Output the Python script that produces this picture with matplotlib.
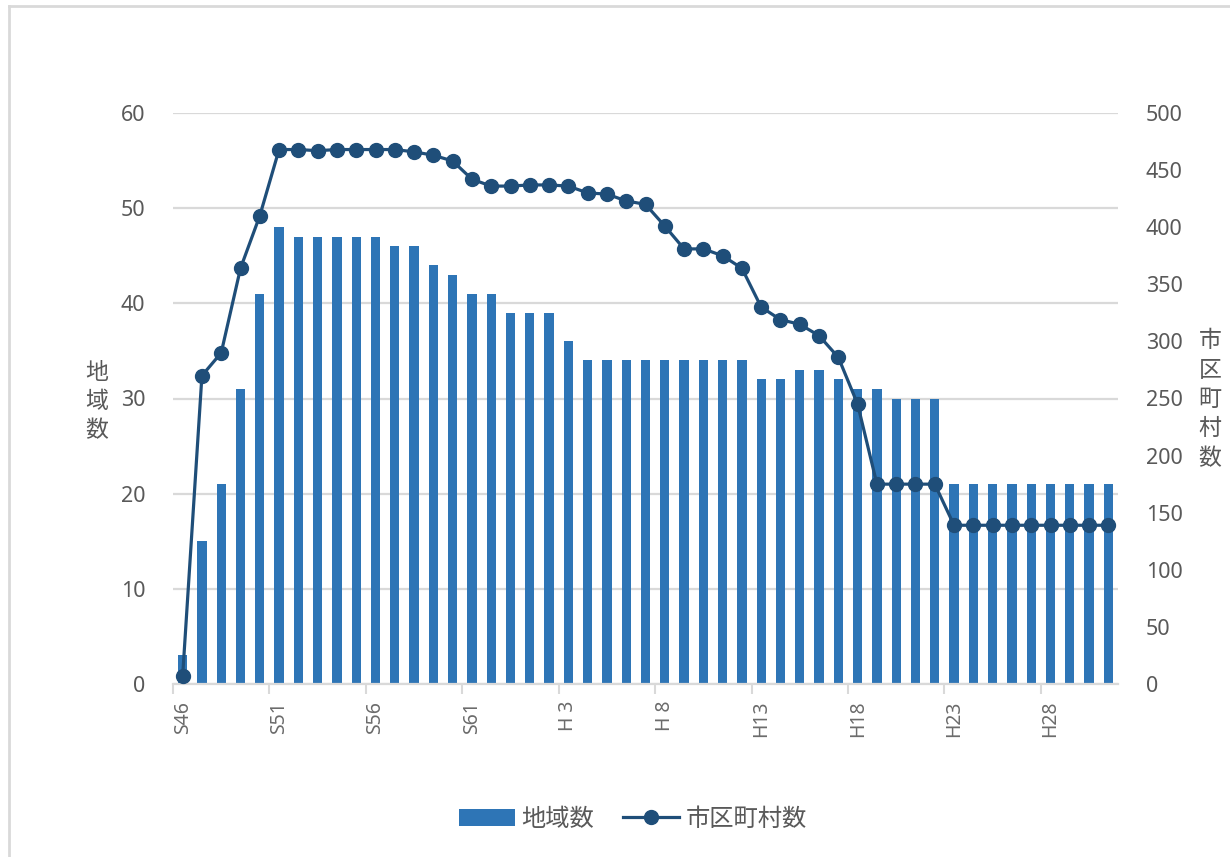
import numpy as np
import matplotlib.pyplot as plt
from matplotlib.lines import Line2D

plt.rcParams['font.family'] = ['Noto Sans', 'Noto Sans CJK JP']

# categories: S46..S63, H1..H31
years = ['S%d' % y for y in range(46, 64)] + ['H%d' % y for y in range(1, 32)]
tick_labels = ['S46', 'S51', 'S56', 'S61', 'H 3', 'H 8', 'H13', 'H18', 'H23', 'H28']

# 地域数 (left axis)
chiiki = [3, 15, 21, 31, 41, 48, 47, 47, 47, 47,
          47, 46, 46, 44, 43, 41, 41, 39, 39, 39,
          36, 34, 34, 34, 34, 34, 34, 34, 34, 34,
          32, 32, 33, 33, 32, 31, 31, 30, 30, 30,
          21, 21, 21, 21, 21, 21, 21, 21, 21]

# 市区町村数 (right axis)
shikuchoson = [7, 270, 290, 364, 410, 468, 468, 467, 468, 468,
               468, 468, 466, 463, 458, 442, 436, 436, 437, 437,
               436, 430, 429, 423, 420, 401, 381, 381, 375, 364,
               330, 319, 315, 305, 286, 245, 175, 175, 175, 175,
               139, 139, 139, 139, 139, 139, 139, 139, 139]

bar_c = '#2E75B6'
line_c = '#1F4E79'
grid_c = '#D9D9D9'
txt_c = '#595959'

x = np.arange(len(years))

fig = plt.figure(figsize=(12.3, 8.57), dpi=100)
ax = fig.add_axes([173/1230, 1-684/857, 945/1230, 571/857])
ax2 = ax.twinx()

ax.bar(x, chiiki, width=0.48, color=bar_c, zorder=2, label='地域数')
ax2.plot(x, shikuchoson, color=line_c, lw=2.3, marker='o', ms=10, zorder=3, label='市区町村数')

# left axis
ax.set_xlim(-0.5, len(years) - 0.5)
ax.set_ylim(0, 60)
ax.set_yticks(np.arange(0, 61, 10))
ax.grid(axis='y', color=grid_c, lw=1.6, zorder=0)
ax.set_axisbelow(True)
ax.tick_params(axis='y', length=0, pad=20, labelsize=15.5, labelcolor=txt_c)

# right axis
ax2.set_ylim(0, 500)
ax2.set_yticks(np.arange(0, 501, 50))
ax2.tick_params(axis='y', length=0, pad=20, labelsize=15.5, labelcolor=txt_c)

# x axis: labels every 5 categories, tick marks at category boundaries
ax.set_xticks(x[::5])
ax.set_xticklabels(tick_labels, rotation=90, va='top')
ax.tick_params(axis='x', which='major', length=0, pad=12, labelsize=14, labelcolor='#6b6b6b')
ax.set_xticks(np.arange(-0.5, len(years) - 1, 5), minor=True)
ax.tick_params(axis='x', which='minor', length=7, width=1.5, color=grid_c)

for a in (ax, ax2):
    for s in ['top', 'left', 'right']:
        a.spines[s].set_visible(False)
ax2.spines['bottom'].set_visible(False)
ax.spines['bottom'].set_color(grid_c)
ax.spines['bottom'].set_linewidth(1.6)

# stacked axis titles
fig.text(97/1230, 1-402/857, '\n'.join('地域数'), ha='center', va='center',
         fontsize=16.5, color=txt_c, linespacing=1.3)
fig.text(1210/1230, 1-400/857, '\n'.join('市区町村数'), ha='center', va='center',
         fontsize=16.5, color=txt_c, linespacing=1.3)

# legend
h1, l1 = ax.get_legend_handles_labels()
h2, l2 = ax2.get_legend_handles_labels()
fig.legend(h1 + h2, l1 + l2, loc='center', bbox_to_anchor=(633/1230, 1-820/857),
           ncol=2, frameon=False, fontsize=17.5, labelcolor=txt_c,
           handlelength=2.3, handletextpad=0.25, columnspacing=1.2)

# chart border (left and top edges)
fig.add_artist(Line2D([9/1230, 9/1230], [0, 1-6/857], color=grid_c, lw=2))
fig.add_artist(Line2D([9/1230, 1], [1-6/857, 1-6/857], color=grid_c, lw=2))

fig.savefig('out.png', dpi=100, facecolor='white')
